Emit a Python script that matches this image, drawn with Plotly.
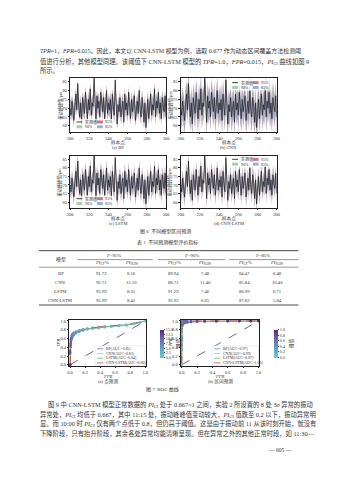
import plotly.graph_objects as go

# ---------------- data ----------------
samples = list(range(200, 301))
actual = [70, 66, 74, 68, 63, 72, 78, 69, 84, 71,
          65, 73, 61, 76, 70, 67, 79, 72, 64, 75,
          69, 81, 66, 73, 71, 88, 68, 62, 77, 70,
          74, 65, 79, 72, 68, 76, 64, 71, 80, 67,
          73, 69, 75, 63, 78, 71, 66, 86, 70, 61,
          72, 68, 76, 65, 70, 74, 62, 78, 69, 73,
          66, 79, 71, 64, 75, 68, 72, 77, 63, 70,
          74, 67, 80, 69, 65, 76, 71, 62, 73, 59,
          68, 75, 64, 71, 78, 66, 72, 69, 81, 65,
          74, 70, 79, 67, 73, 64, 76, 71, 68, 77, 65]
pred_bp = [71, 68, 72, 69, 65, 71, 76, 71, 80, 72,
           67, 72, 64, 74, 70, 68, 77, 72, 66, 74,
           70, 79, 68, 72, 71, 84, 69, 64, 75, 71,
           73, 67, 77, 72, 69, 75, 66, 71, 78, 68,
           72, 70, 74, 65, 76, 71, 67, 82, 70, 63,
           71, 69, 75, 66, 70, 73, 64, 76, 70, 72,
           67, 77, 71, 66, 74, 69, 72, 75, 65, 70,
           73, 68, 78, 69, 66, 75, 71, 64, 72, 61,
           68, 74, 66, 71, 76, 67, 72, 70, 79, 66,
           73, 70, 77, 68, 72, 66, 75, 71, 69, 75, 66]
pred_cnn = [70, 67, 73, 68, 64, 72, 77, 70, 82, 71,
            66, 73, 63, 75, 70, 67, 78, 72, 65, 75,
            69, 80, 67, 73, 71, 85, 68, 63, 76, 70,
            74, 66, 78, 72, 68, 76, 65, 71, 79, 67,
            73, 69, 75, 64, 77, 71, 66, 83, 70, 62,
            72, 68, 76, 65, 70, 74, 63, 77, 69, 73,
            66, 78, 71, 65, 75, 68, 72, 76, 64, 70,
            74, 67, 79, 69, 65, 76, 71, 63, 73, 60,
            68, 75, 65, 71, 77, 66, 72, 69, 80, 65,
            74, 70, 78, 67, 73, 65, 76, 71, 68, 76, 65]
pred_lstm = [71, 67, 73, 69, 64, 71, 77, 70, 82, 72,
             66, 72, 63, 75, 70, 68, 78, 71, 65, 74,
             70, 80, 67, 72, 71, 85, 69, 63, 76, 71,
             73, 66, 78, 71, 69, 75, 65, 71, 79, 68,
             72, 69, 74, 64, 77, 70, 67, 83, 69, 62,
             71, 69, 75, 66, 70, 73, 63, 77, 70, 72,
             67, 78, 70, 65, 74, 69, 71, 76, 64, 70,
             73, 68, 79, 69, 66, 75, 70, 63, 72, 60,
             69, 74, 65, 71, 77, 67, 71, 70, 80, 66,
             73, 70, 78, 68, 72, 65, 75, 71, 69, 76, 66]
pred_cl = [70, 66, 73, 68, 63, 72, 77, 69, 83, 71,
           65, 73, 62, 75, 70, 67, 78, 72, 64, 75,
           69, 80, 66, 73, 71, 86, 68, 62, 76, 70,
           74, 65, 78, 72, 68, 76, 64, 71, 79, 67,
           73, 69, 75, 63, 77, 71, 66, 84, 70, 61,
           72, 68, 76, 65, 70, 74, 62, 77, 69, 73,
           66, 78, 71, 64, 75, 68, 72, 76, 63, 70,
           74, 67, 79, 69, 65, 76, 71, 62, 73, 60,
           68, 75, 64, 71, 77, 66, 72, 69, 80, 65,
           74, 70, 78, 67, 73, 64, 76, 71, 68, 76, 65]
ts_titles = ["(a) BP", "(b) CNN", "(c) LSTM", "(d) CNN-LSTM"]
hw95 = [6.0, 9.6, 6.2, 6.3]
hw90 = [5.2, 8.3, 5.3, 5.0]
hw85 = [4.5, 7.4, 4.6, 4.4]
level_names = ["95%", "90%", "85%"]
ts_xticks = [200, 220, 240, 260, 280, 300]
ts_yticks = [60, 65, 70, 75, 80, 85]

table_models = ["BP", "CNN", "LSTM", "CNN-LSTM"]
pi_ci_95 = [91.72, 92.71, 93.99, 95.99]
pi_naw_95 = [8.16, 13.10, 8.35, 8.45]
pi_ci_90 = [89.94, 88.71, 91.29, 92.95]
pi_naw_90 = [7.48, 11.40, 7.46, 6.65]
pi_ci_85 = [84.47, 85.84, 86.99, 87.82]
pi_naw_85 = [6.48, 10.40, 6.71, 5.84]
p_levels = ["95%", "90%", "85%"]

# ROC (a) point prediction
fpr_pt = [0.0, 0.0, 0.005, 0.01, 0.02, 0.03, 0.05, 0.08, 0.12, 0.17, 0.23, 0.3, 0.38, 0.46, 0.55, 0.65, 0.75, 0.85, 0.93, 1.0]
tpr_pt_bp = [0.0, 0.30, 0.45, 0.55, 0.63, 0.67, 0.71, 0.74, 0.77, 0.80, 0.82, 0.84, 0.855, 0.87, 0.88, 0.89, 0.91, 0.94, 0.97, 1.0]
tpr_pt_cnn = [0.0, 0.25, 0.40, 0.50, 0.58, 0.63, 0.68, 0.72, 0.755, 0.785, 0.81, 0.83, 0.845, 0.86, 0.875, 0.885, 0.90, 0.93, 0.965, 1.0]
tpr_pt_lstm = [0.0, 0.28, 0.43, 0.53, 0.61, 0.66, 0.70, 0.73, 0.765, 0.79, 0.815, 0.835, 0.85, 0.865, 0.878, 0.888, 0.905, 0.935, 0.968, 1.0]
tpr_pt_cl = [0.0, 0.33, 0.48, 0.58, 0.66, 0.70, 0.735, 0.76, 0.785, 0.81, 0.83, 0.85, 0.865, 0.878, 0.89, 0.90, 0.915, 0.945, 0.975, 1.0]
thr_pt = [15.0, 13.0, 11.5, 10.0, 8.5, 7.5, 6.5, 5.6, 4.8, 4.1, 3.5, 3.0, 2.5, 2.1, 1.7, 1.3, 0.9, 0.6, 0.3, 0.0]
auc_pt = ["0.85", "0.83", "0.84", "0.86"]

# ROC (b) interval prediction
fpr_iv = [0.0, 0.0, 0.0, 0.0, 0.005, 0.01, 0.02, 0.04, 0.07, 0.12, 0.2, 0.3, 0.45, 0.6, 0.75, 0.9, 1.0]
tpr_iv_bp = [0.0, 0.35, 0.62, 0.8, 0.88, 0.92, 0.94, 0.955, 0.965, 0.975, 0.985, 0.99, 0.995, 1.0, 1.0, 1.0, 1.0]
tpr_iv_cnn = [0.0, 0.45, 0.75, 0.9, 0.95, 0.975, 0.985, 0.99, 0.995, 1.0, 1.0, 1.0, 1.0, 1.0, 1.0, 1.0, 1.0]
tpr_iv_lstm = [0.0, 0.38, 0.65, 0.82, 0.89, 0.925, 0.945, 0.96, 0.97, 0.98, 0.988, 0.993, 0.997, 1.0, 1.0, 1.0, 1.0]
tpr_iv_cl = [0.0, 0.5, 0.85, 0.97, 0.99, 1.0, 1.0, 1.0, 1.0, 1.0, 1.0, 1.0, 1.0, 1.0, 1.0, 1.0, 1.0]
thr_iv = [0.0, 0.15, 0.3, 0.45, 0.55, 0.6, 0.64, 0.67, 0.7, 0.74, 0.78, 0.82, 0.86, 0.9, 0.94, 0.97, 1.0]
auc_iv = ["0.97", "0.99", "0.97", "1.00"]
diag = [0.0, 1.0]
roc_ticks = [0.0, 0.2, 0.4, 0.6, 0.8, 1.0]
cb_ticks_pt = [0.0, 2.5, 5.0, 7.5, 10.0, 12.5, 15.0]
cb_ticks_iv = [0.0, 0.2, 0.4, 0.6, 0.8, 1.0]

# ---------------- layout helpers ----------------
W, H = 339, 480
def fx(p):
    return p / W
def fy(p):
    return 1 - p / H

SERIF = "Liberation Serif, Noto Sans CJK SC, serif"
INK = "#333333"
annotations = []
shapes = []

def ann(text, x, y, size, xanchor="center", yanchor="middle", angle=0, color=INK, style="normal"):
    annotations.append(dict(text=text, x=fx(x), y=fy(y), xref="paper", yref="paper",
                            showarrow=False, xanchor=xanchor, yanchor=yanchor, borderpad=0,
                            textangle=angle,
                            font=dict(family=SERIF, size=size, color=color, style=style)))

def rect(x0, y0, x1, y1, fill, line_w=0, line_c=None, opacity=1.0):
    shapes.append(dict(type="rect", xref="paper", yref="paper", x0=fx(x0), x1=fx(x1),
                       y0=fy(y1), y1=fy(y0), fillcolor=fill, opacity=opacity,
                       line=dict(width=line_w, color=line_c or fill)))

def hline(x0, x1, y, w=0.6, color=INK, dash="solid"):
    shapes.append(dict(type="line", xref="paper", yref="paper", x0=fx(x0), x1=fx(x1),
                       y0=fy(y), y1=fy(y), line=dict(width=w, color=color, dash=dash)))

axis_style = dict(showline=True, mirror=True, linecolor="#222222", linewidth=0.6, ticks="outside",
                  ticklen=1.5, tickwidth=0.5, tickcolor="#222222", showgrid=False, zeroline=False,
                  tickfont=dict(family=SERIF, size=4.5, color=INK))

fig = go.Figure()
lay = {}

# ---------------- body text ----------------
BODY = 6.3
ann("<i>TPR</i>=1，<i>FPR</i>=0.015。因此，本文以 CNN-LSTM 模型为例，选取 0.677 作为动态区间覆盖方法检测阈",
    36.7, 50.5, 5.96, xanchor="left")
ann("值进行分析，其他模型同理。该阈值下 CNN-LSTM 模型的 <i>TPR</i>=1.0，<i>FPR</i>=0.015，<i>PI</i><sub>CI</sub> 曲线如图 9",
    36.7, 60.3, BODY, xanchor="left")
ann("所示。", 36.7, 70.0, BODY, xanchor="left")

# ---------------- time-series panels ----------------
preds = [pred_bp, pred_cnn, pred_lstm, pred_cl]
band_fill = ["rgba(214,125,145,0.45)", "rgba(140,195,150,0.45)", "rgba(128,132,210,0.45)"]
band_key = ["#d9707f", "#9fd4a5", "#8fb2d9"]
ts_boxes = [(68.5, 166.5, 77.5, 131.5), (181.5, 279.5, 77.5, 131.5),
            (68.5, 166.5, 155.5, 208.0), (181.5, 279.5, 155.5, 208.0)]
leg_left = [75, 234, 75, 234]
leg_rows = [(121.5, 126.3), (82.0, 86.8), (198.5, 203.3), (159.0, 163.8)]

for i in range(4):
    xn = "x" if i == 0 else f"x{i+1}"
    yn = "y" if i == 0 else f"y{i+1}"
    widths = [hw95[i], hw90[i], hw85[i]]
    for hw, col in zip(widths, band_fill):
        up = [p + hw for p in preds[i]]
        lo = [p - hw for p in preds[i]]
        fig.add_trace(go.Scatter(x=samples, y=up, mode="lines", line=dict(width=0),
                                 xaxis=xn, yaxis=yn, showlegend=False, hoverinfo="skip"))
        fig.add_trace(go.Scatter(x=samples, y=lo, mode="lines", line=dict(width=0),
                                 fill="tonexty", fillcolor=col,
                                 xaxis=xn, yaxis=yn, showlegend=False, hoverinfo="skip"))
    fig.add_trace(go.Scatter(x=samples, y=actual, mode="lines",
                             line=dict(color="#111111", width=0.65),
                             xaxis=xn, yaxis=yn, showlegend=False))
    x0, x1, y0, y1 = ts_boxes[i]
    suf = "" if i == 0 else str(i + 1)
    lay["xaxis" + suf] = dict(domain=[fx(x0), fx(x1)], range=[200, 300], anchor=yn,
                              tickvals=ts_xticks, **axis_style)
    lay["yaxis" + suf] = dict(domain=[fy(y1), fy(y0)], range=[56.5, 87], anchor=xn,
                              tickvals=ts_yticks, **axis_style)
    cx = (x0 + x1) / 2
    ann("样本点", cx, y1 + 10.5, 4.6)
    ann(ts_titles[i], cx, y1 + 15.5, 4.6)
    ann("振动峰峰值/μm", x0 - 10.5, (y0 + y1) / 2, 4.3, angle=-90)
    # legend (2 columns)
    L = leg_left[i]
    r1, r2 = leg_rows[i]
    rect(L - 2, r1 - 3, L + 38, r2 + 3, "white", opacity=0.75)
    shapes.append(dict(type="line", xref="paper", yref="paper", x0=fx(L), x1=fx(L + 6),
                       y0=fy(r1), y1=fy(r1), line=dict(width=0.8, color="#111111")))
    ann("实测值", L + 7.5, r1, 4.0, xanchor="left")
    key_pos = [(L + 21, r1), (L, r2), (L + 21, r2)]
    for (kx, ky), kc, nm in zip(key_pos, band_key, level_names):
        rect(kx, ky - 1.5, kx + 6, ky + 1.5, kc)
        ann(nm, kx + 7.5, ky, 4.0, xanchor="left")

ann("图 6  不同模型区间预测", 166, 231, 5.0)
ann("表 1  不同预测模型评价指标", 168, 243, 5.0)

# ---------------- table (three-line table) ----------------
T_L, T_R = 36.7, 301.7
TF = 4.7
hline(T_L, T_R, 250.7, w=0.9)
hline(T_L, T_R, 267.3, w=0.5)
hline(T_L, T_R, 305.3, w=0.9)
p_centers = [113, 192, 265]
p_spans = [(76, 153), (158, 227), (231, T_R)]
for pc, (a0, a1), pl in zip(p_centers, p_spans, p_levels):
    ann(f"<i>P</i>={pl}", pc, 255.3, TF)
    hline(a0, a1, 259.7, w=0.5)
ann("模型", 59, 259.7, 4.9)

col_x = [59, 101, 131.7, 174.3, 206.7, 246.7, 280]
row_y = [273.7, 282.3, 291.3, 300.3]
pi_ci_h = "<i>PI</i><sub>CI</sub>/%"
pi_naw_h = "<i>PI</i><sub>NAW</sub>"
headers = [pi_ci_h, pi_naw_h, pi_ci_h, pi_naw_h, pi_ci_h, pi_naw_h]
for cxp, hd in zip(col_x[1:], headers):
    ann(hd, cxp, 263.3, TF)
cols = [pi_ci_95, pi_naw_95, pi_ci_90, pi_naw_90, pi_ci_85, pi_naw_85]
for r, name in enumerate(table_models):
    ann(name, col_x[0], row_y[r], TF)
    for c, colvals in enumerate(cols):
        ann(f"{colvals[r]:.2f}", col_x[c + 1], row_y[r], TF)

# ---------------- ROC panels ----------------
roc_colors = ["#4c6fb5", "#f4a07a", "#5cb85c", "#d62728"]
roc_dash = ["solid", "solid", "solid", "dash"]
cscale = [[0.0, "#62cfd0"], [0.35, "#5aa2c8"], [0.65, "#6a6fb8"], [1.0, "#5e2480"]]
roc_boxes = [(67.7, 146.0, 320.0, 366.7), (181.7, 261.7, 320.0, 366.7)]
roc_sets = [
    (fpr_pt, [tpr_pt_bp, tpr_pt_cnn, tpr_pt_lstm, tpr_pt_cl], thr_pt, auc_pt, "coloraxis"),
    (fpr_iv, [tpr_iv_bp, tpr_iv_cnn, tpr_iv_lstm, tpr_iv_cl], thr_iv, auc_iv, "coloraxis2"),
]
roc_titles = ["(a) 点预测", "(b) 区间预测"]
roc_leg_x = [96.0, 215.5]
roc_leg_rows = [349.3, 354.0, 358.7, 363.4]

for j in range(2):
    k = j + 5
    xn, yn = f"x{k}", f"y{k}"
    fpr, tprs, thr, aucs, cax = roc_sets[j]
    fig.add_trace(go.Scatter(x=diag, y=diag, mode="lines",
                             line=dict(color="#1f2a6b", width=0.7, dash="dash"),
                             xaxis=xn, yaxis=yn, showlegend=False))
    for m in range(4):
        fig.add_trace(go.Scatter(x=fpr, y=tprs[m], mode="lines+markers",
                                 line=dict(color=roc_colors[m], width=0.7, dash=roc_dash[m]),
                                 marker=dict(color=thr, coloraxis=cax, size=2.6, line=dict(width=0)),
                                 xaxis=xn, yaxis=yn, showlegend=False))
    x0, x1, y0, y1 = roc_boxes[j]
    lay[f"xaxis{k}"] = dict(domain=[fx(x0), fx(x1)], range=[-0.01, 1.01], anchor=yn,
                            tickvals=roc_ticks, tickformat=".1f", **axis_style)
    lay[f"yaxis{k}"] = dict(domain=[fy(y1), fy(y0)], range=[-0.03, 1.03], anchor=xn,
                            tickvals=roc_ticks, tickformat=".1f", **axis_style)
    cx = (x0 + x1) / 2
    ann("FPR", cx, y1 + 10.0, 4.6, style="italic")
    ann(roc_titles[j], cx, y1 + 15.0, 4.6)
    ann("TPR", x0 - 10.5, (y0 + y1) / 2, 4.6, angle=-90, style="italic")
    # legend
    lx = roc_leg_x[j]
    rect(lx - 2, roc_leg_rows[0] - 3, x1 - 0.8, roc_leg_rows[-1] + 2.8, "white",
         line_w=0.4, line_c="#cccccc", opacity=0.85)
    for m in range(4):
        ry = roc_leg_rows[m]
        shapes.append(dict(type="line", xref="paper", yref="paper", x0=fx(lx), x1=fx(lx + 6.5),
                           y0=fy(ry), y1=fy(ry),
                           line=dict(width=0.7, color=roc_colors[m], dash=roc_dash[m])))
        ann(f"{table_models[m]}(AUC={aucs[m]})", lx + 8, ry, 3.9, xanchor="left")

cb_common = dict(thickness=4, lenmode="fraction", len=48 / H, yanchor="middle", y=fy(344),
                 xanchor="left", outlinewidth=0, ticks="outside", ticklen=1.5, tickwidth=0.5,
                 tickfont=dict(family=SERIF, size=4.2, color=INK),
                 title=dict(text="阈值", side="right", font=dict(family=SERIF, size=4.6, color=INK)))
lay["coloraxis"] = dict(cmin=0, cmax=15, colorscale=cscale,
                        colorbar=dict(x=fx(150.3), tickvals=cb_ticks_pt,
                                      ticktext=[f"{v:.1f}" for v in cb_ticks_pt], **cb_common))
lay["coloraxis2"] = dict(cmin=0, cmax=1, colorscale=cscale,
                         colorbar=dict(x=fx(266.5), tickvals=cb_ticks_iv,
                                       ticktext=[f"{v:.1f}" for v in cb_ticks_iv], **cb_common))

ann("图 7  ROC 曲线", 163, 390, 5.0)

# ---------------- bottom text ----------------
ann("图 9 中 CNN-LSTM 模型正常数据的 <i>PI</i><sub>CI</sub> 处于 0.667~1 之间，实验 2 所设置的 8 处 3<i>σ</i> 异常的振动",
    45, 405, BODY, xanchor="left")
ann("异常处，<i>PI</i><sub>CI</sub> 均低于 0.667，其中 11:15 处，振动峰峰值变动较大，<i>PI</i><sub>CI</sub> 值跌至 0.2 以下，振动异常明",
    36.7, 414.8, BODY, xanchor="left")
ann("显。而 10:00 时 <i>PI</i><sub>CI</sub> 仅有两个点低于 0.8，但仍高于阈值。这是由于振动前 11 从该时刻开始，就没有",
    36.7, 424.6, BODY, xanchor="left")
ann("下降阶段，只有抬升阶段，其余各处异常均能清晰呈现。但在异常之外的其他正常时段，如 11:30—",
    36.7, 434.4, BODY, xanchor="left")
ann("— 605 —", 283, 451, 5.6)

fig.update_layout(width=W, height=H, autosize=False, margin=dict(l=0, r=0, t=0, b=0, pad=0),
                  paper_bgcolor="white", plot_bgcolor="white", showlegend=False,
                  annotations=annotations, shapes=shapes, **lay)
fig.write_html("out.html")
